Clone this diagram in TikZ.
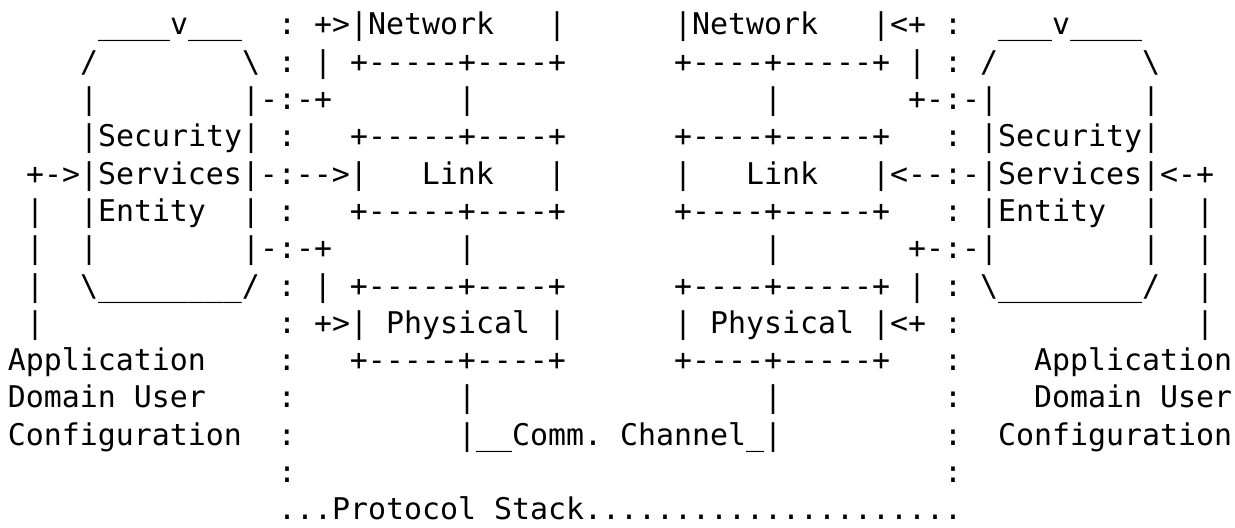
\documentclass[tikz,border=0pt]{standalone}
\usepackage{fontspec}
\setmonofont{DejaVu Sans Mono}
\usetikzlibrary{positioning}

\tikzset{
  asciirow/.style={anchor=base west, inner sep=0pt, outer sep=0pt,
    font=\ttfamily\fontsize{14.95pt}{18pt}\selectfont}
}

\begin{document}
\begin{tikzpicture}[node distance=18.65pt]  % one text row per node
    \useasboundingbox (0,0) rectangle (617.5pt,-264pt);

    % upper half: the two stacks with the entities
    \node (row1) [asciirow] at (4pt,-17.5pt) {~~~~~\_\_\_\_v\_\_\_~~:~+>|Network~~~|~~~~~~|Network~~~|<+~:~~\_\_\_v\_\_\_\_};
    \node (row2) [below=of row1.base west, asciirow] {~~~~/~~~~~~~~\textbackslash{}~:~|~+-----+----+~~~~~~+----+-----+~|~:~/~~~~~~~~\textbackslash{}};
    \node (row3) [below=of row2.base west, asciirow] {~~~~|~~~~~~~~|-:-+~~~~~~~|~~~~~~~~~~~~~~~~|~~~~~~~+-:-|~~~~~~~~|};
    \node (row4) [below=of row3.base west, asciirow] {~~~~|Security|~:~~~+-----+----+~~~~~~+----+-----+~~~:~|Security|};
    \node (row5) [below=of row4.base west, asciirow] {~+->|Services|-:-->|~~~Link~~~|~~~~~~|~~~Link~~~|<--:-|Services|<-+};
    \node (row6) [below=of row5.base west, asciirow] {~|~~|Entity~~|~:~~~+-----+----+~~~~~~+----+-----+~~~:~|Entity~~|~~|};
    \node (row7) [below=of row6.base west, asciirow] {~|~~|~~~~~~~~|-:-+~~~~~~~|~~~~~~~~~~~~~~~~|~~~~~~~+-:-|~~~~~~~~|~~|};
    \node (row8) [below=of row7.base west, asciirow] {~|~~\textbackslash{}\_\_\_\_\_\_\_\_/~:~|~+-----+----+~~~~~~+----+-----+~|~:~\textbackslash{}\_\_\_\_\_\_\_\_/~~|};
    \node (row9) [below=of row8.base west, asciirow] {~|~~~~~~~~~~~~~:~+>|~Physical~|~~~~~~|~Physical~|<+~:~~~~~~~~~~~~~|};

    % lower half: users, channel and the stack label
    \node (row10) [below=of row9.base west, asciirow] {Application~~~~:~~~+-----+----+~~~~~~+----+-----+~~~:~~~~Application};
    \node (row11) [below=of row10.base west, asciirow] {Domain~User~~~~:~~~~~~~~~|~~~~~~~~~~~~~~~~|~~~~~~~~~:~~~~Domain~User};
    \node (row12) [below=of row11.base west, asciirow] {Configuration~~:~~~~~~~~~|\_\_Comm.~Channel\_|~~~~~~~~~:~~Configuration};
    \node (row13) [below=of row12.base west, asciirow] {~~~~~~~~~~~~~~~:~~~~~~~~~~~~~~~~~~~~~~~~~~~~~~~~~~~~:};
    \node (row14) [below=of row13.base west, asciirow] {~~~~~~~~~~~~~~~...Protocol~Stack.....................};
\end{tikzpicture}
\end{document}
